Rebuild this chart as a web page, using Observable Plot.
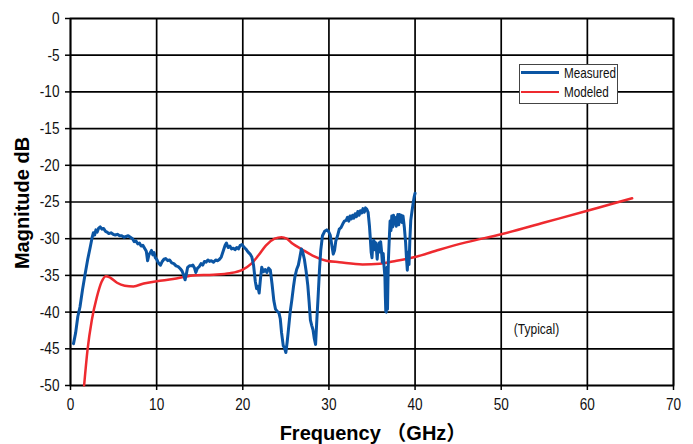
<!DOCTYPE html>
<html>
<head>
<meta charset="utf-8">
<script src="https://cdn.jsdelivr.net/npm/d3@7"></script>
<script src="https://cdn.jsdelivr.net/npm/@observablehq/plot@0.6"></script>
<style>
  html, body { margin: 0; padding: 0; background: #fff; }
  #wrap { position: relative; width: 693px; height: 444px; overflow: hidden; }
  #legend {
    position: absolute; left: 519px; top: 64px; width: 99px; height: 40px;
    background: #fff; border: 1px solid #444; box-sizing: border-box;
    font-family: "Liberation Sans", Arial, sans-serif;
    font-size: 15px; color: #111;
  }
  #legend .row { position: absolute; left: 1px; height: 19px; display: flex; align-items: center; }
  #legend .sw { width: 38px; height: 0; margin-right: 5px; }
  #legend span { display: inline-block; transform: scaleX(0.78); transform-origin: left center; white-space: nowrap; }
</style>
</head>
<body>
<div id="wrap"></div>
<script>
// ---- data ----
const xTicks = [0, 10, 20, 30, 40, 50, 60, 70];
const yTicks = [0, -5, -10, -15, -20, -25, -30, -35, -40, -45, -50];
const seriesNames = ["Measured", "Modeled"];
const seriesColors = ["#0b55a3", "#ee2a2f"];

const measuredFreq = [0.35,0.6,0.85,1.1,1.4,1.7,2.0,2.3,2.5,2.65,2.8,2.95,3.1,3.25,3.45,3.65,3.85,4.05,4.25,4.45,4.7,4.95,5.2,5.45,5.7,5.95,6.2,6.45,6.7,6.95,7.2,7.4,7.6,7.8,8.0,8.2,8.4,8.6,8.8,8.95,9.1,9.25,9.4,9.55,9.7,9.85,10.0,10.2,10.45,10.65,10.85,11.05,11.3,11.5,11.75,12.0,12.25,12.5,12.75,12.95,13.15,13.3,13.45,13.6,13.8,14.0,14.2,14.4,14.55,14.75,14.95,15.15,15.35,15.55,15.75,15.95,16.15,16.35,16.6,16.85,17.1,17.3,17.5,17.75,17.95,18.1,18.3,18.5,18.7,18.9,19.1,19.3,19.5,19.7,19.9,20.1,20.35,20.6,20.85,21.05,21.25,21.45,21.6,21.75,21.9,22.05,22.2,22.4,22.6,22.8,23.0,23.2,23.4,23.6,23.8,24.0,24.2,24.35,24.5,24.7,24.85,25.0,25.15,25.3,25.5,25.7,25.9,26.05,26.25,26.45,26.6,26.8,26.95,27.15,27.35,27.55,27.7,27.85,28.0,28.15,28.3,28.45,28.6,28.75,28.9,29.05,29.25,29.5,29.75,29.95,30.15,30.35,30.5,30.65,30.8,31.0,31.2,31.4,31.6,31.8,32.0,32.15,32.3,32.45,32.6,32.75,32.9,33.05,33.2,33.35,33.5,33.65,33.8,33.95,34.1,34.25,34.4,34.55,34.7,34.8,34.9,35.0,35.1,35.2,35.3,35.4,35.5,35.6,35.7,35.8,35.9,36.0,36.1,36.2,36.3,36.4,36.5,36.55,36.6,36.65,36.7,36.75,36.8,36.85,36.9,37.0,37.1,37.2,37.3,37.4,37.5,37.6,37.7,37.8,37.9,38.0,38.1,38.2,38.3,38.4,38.5,38.6,38.75,38.9,39.0,39.1,39.2,39.3,39.4,39.5,39.65,39.8,39.9,40.0];
const measuredDb = [-44.3,-42.8,-40.6,-39.3,-36.9,-34.8,-32.8,-31.1,-29.9,-29.2,-29.5,-28.8,-29.1,-28.6,-28.4,-28.7,-28.6,-29.0,-29.1,-29.3,-29.2,-29.4,-29.5,-29.4,-29.6,-29.6,-29.8,-29.7,-29.6,-29.8,-30.0,-30.4,-30.3,-30.7,-30.6,-31.0,-30.9,-31.3,-31.7,-33.0,-32.2,-31.9,-31.6,-32.2,-31.9,-32.6,-32.8,-33.3,-33.6,-33.1,-32.8,-32.7,-33.0,-32.9,-33.3,-33.4,-33.7,-33.8,-34.1,-34.4,-35.0,-35.6,-34.8,-33.9,-33.7,-33.7,-33.6,-34.0,-34.6,-34.0,-33.8,-33.4,-33.6,-33.1,-33.2,-32.9,-33.1,-33.0,-33.2,-32.9,-33.0,-32.8,-32.5,-31.6,-30.9,-30.6,-31.2,-31.0,-31.4,-31.3,-31.5,-31.2,-31.4,-30.9,-30.8,-31.1,-31.4,-31.8,-32.1,-32.5,-33.6,-35.8,-36.8,-36.5,-37.4,-35.5,-33.9,-34.5,-34.2,-34.6,-34.0,-34.3,-36.2,-38.4,-39.6,-39.9,-40.1,-40.9,-42.8,-44.6,-44.9,-45.5,-44.1,-42.4,-40.0,-38.3,-36.4,-35.2,-34.2,-33.6,-32.7,-31.4,-31.8,-32.8,-34.4,-36.4,-38.6,-41.1,-41.8,-42.4,-43.6,-44.4,-41.0,-37.8,-34.3,-31.6,-29.6,-29.0,-28.8,-29.0,-29.5,-31.0,-32.1,-31.6,-30.3,-29.6,-28.7,-28.5,-28.0,-27.6,-27.5,-27.1,-27.6,-26.9,-27.3,-26.8,-27.2,-26.6,-27.0,-26.3,-26.8,-26.2,-26.5,-25.9,-26.4,-25.8,-26.0,-26.4,-28.2,-29.9,-31.8,-32.6,-30.6,-30.2,-31.5,-30.5,-31.2,-32.8,-31.3,-30.6,-31.8,-30.4,-31.6,-33.2,-32.0,-33.8,-35.2,-37.9,-39.9,-40.0,-37.2,-33.9,-39.6,-36.0,-33.0,-30.2,-27.6,-28.9,-26.9,-28.4,-26.8,-28.0,-27.1,-28.3,-27.4,-26.7,-28.1,-26.7,-27.7,-26.8,-27.8,-26.9,-28.4,-30.5,-32.6,-34.3,-31.8,-33.5,-30.0,-27.5,-26.2,-25.0,-24.3,-23.8];

const modeledFreq = [1.58,1.97,2.47,3.05,3.6,4.1,4.6,5.4,6.3,7.3,8.5,10,11.9,14.2,16.6,18.5,20,21,21.8,22.7,23.7,24.5,25.1,25.8,26.8,28.1,29.7,31.2,33.9,35.9,37.4,40,42.8,45.9,50,55,60,63,65.2];
const modeledDb = [-50,-45.2,-41.1,-38,-35.9,-35.1,-35.3,-36,-36.4,-36.5,-36.1,-35.8,-35.5,-35.0,-34.9,-34.7,-34.2,-33.4,-32.3,-30.9,-30.0,-29.8,-30.0,-30.7,-31.4,-32.3,-33.0,-33.2,-33.5,-33.4,-33.1,-32.5,-31.5,-30.5,-29.4,-27.8,-26.2,-25.2,-24.5];

const noteText = ["(Typical)"];
const noteX = [54.1];
const noteY = [-42.3];

// ---- build tables ----
const measured = measuredFreq.map((f, i) => ({f, db: measuredDb[i]}));
const modeled = modeledFreq.map((f, i) => ({f, db: modeledDb[i]}));
const notes = noteText.map((t, i) => ({t, x: noteX[i], y: noteY[i]}));

const sans = '"Liberation Sans", Arial, sans-serif';

const chart = Plot.plot({
  width: 693,
  height: 444,
  marginLeft: 70,
  marginRight: 20,
  marginTop: 18,
  marginBottom: 59,
  style: {background: "#fff", fontFamily: sans, fontSize: "17px", color: "#111"},
  x: {domain: [0, 70], label: null},
  y: {domain: [-50, 0], label: null},
  marks: [
    Plot.ruleY(yTicks, {stroke: "#000", strokeWidth: 1.7}),
    Plot.ruleX(xTicks, {stroke: "#000", strokeWidth: 1.7}),
    Plot.axisY({ticks: yTicks, tickSize: 5, tickPadding: 6, tickFormat: d => d === 0 ? "0" : "-" + Math.abs(d), stroke: "#000", strokeWidth: 1.5, fontSize: 17, label: null}),
    Plot.axisX({ticks: xTicks, tickSize: 5, tickPadding: 7, stroke: "#000", strokeWidth: 1.5, fontSize: 17, label: null}),
    Plot.frame({stroke: "#000", strokeWidth: 1.7}),
    Plot.line(modeled, {x: "f", y: "db", stroke: seriesColors[1], strokeWidth: 2.5, curve: "monotone-x"}),
    Plot.line(measured, {x: "f", y: "db", stroke: seriesColors[0], strokeWidth: 3, strokeLinejoin: "round"}),
    Plot.text(notes, {x: "x", y: "y", text: "t", fontSize: 15, fill: "#111"})
  ]
});

const wrap = document.getElementById("wrap");
wrap.appendChild(chart);

// horizontally condense text (narrow-font look) without moving anchors
chart.querySelectorAll("[aria-label='y-axis tick label'] text, [aria-label='x-axis tick label'] text, [aria-label='text'] text").forEach(el => {
  const w = el.getComputedTextLength();
  if (w > 0) {
    el.setAttribute("textLength", (w * 0.8).toFixed(2));
    el.setAttribute("lengthAdjust", "spacingAndGlyphs");
  }
});

// axis titles
const svg = d3.select(chart);
svg.append("text")
  .attr("x", 373).attr("y", 440)
  .attr("text-anchor", "middle")
  .attr("font-family", '"Liberation Sans", "Noto Sans CJK JP", Arial, sans-serif')
  .attr("font-weight", "bold").attr("font-size", 20).attr("fill", "#000")
  .text("Frequency （GHz）");
svg.append("text")
  .attr("transform", "translate(29,203) rotate(-90)")
  .attr("text-anchor", "middle")
  .attr("font-family", '"Liberation Sans", Arial, sans-serif')
  .attr("font-weight", "bold").attr("font-size", 20).attr("fill", "#000")
  .text("Magnitude dB");

// legend
const legend = document.createElement("div");
legend.id = "legend";
seriesNames.forEach((name, i) => {
  const row = document.createElement("div");
  row.className = "row";
  row.style.top = (i === 0 ? -2 : 17) + "px";
  const sw = document.createElement("div");
  sw.className = "sw";
  sw.style.borderTop = (i === 0 ? 3 : 2.5) + "px solid " + seriesColors[i];
  const lab = document.createElement("span");
  lab.textContent = name;
  row.appendChild(sw);
  row.appendChild(lab);
  legend.appendChild(row);
});
wrap.appendChild(legend);
</script>
</body>
</html>
